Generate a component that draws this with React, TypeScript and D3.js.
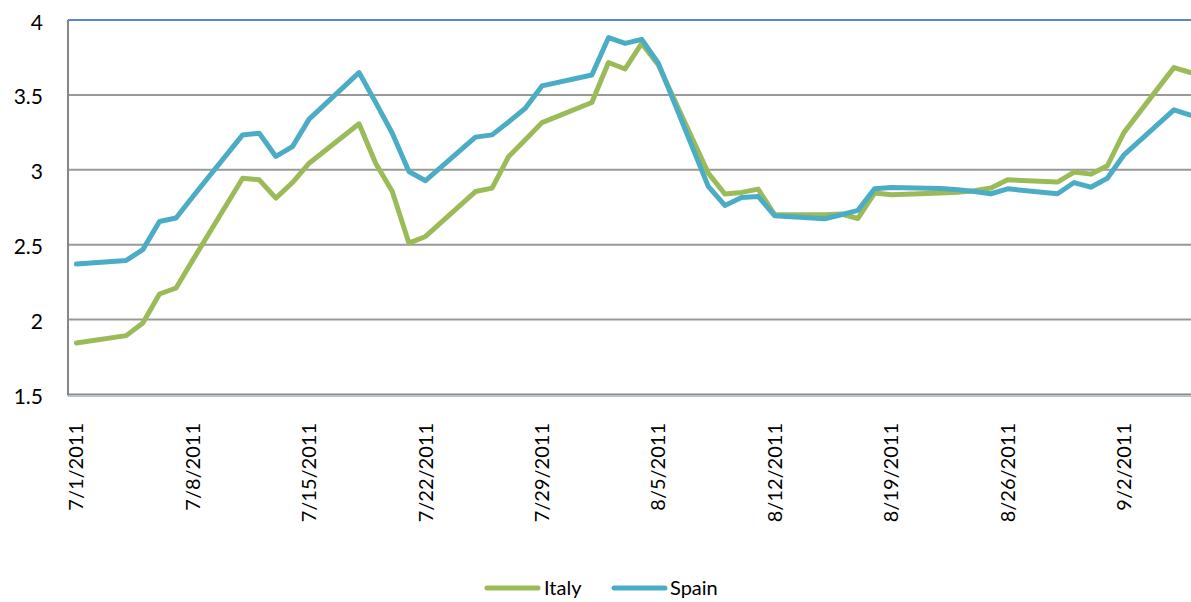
import React from "react";
import * as d3 from "d3";

const dates: string[] = [
  "2011-07-01", "2011-07-04", "2011-07-05", "2011-07-06", "2011-07-07", "2011-07-08",
  "2011-07-11", "2011-07-12", "2011-07-13", "2011-07-14", "2011-07-15",
  "2011-07-18", "2011-07-19", "2011-07-20", "2011-07-21", "2011-07-22",
  "2011-07-25", "2011-07-26", "2011-07-27", "2011-07-28", "2011-07-29",
  "2011-08-01", "2011-08-02", "2011-08-03", "2011-08-04", "2011-08-05",
  "2011-08-08", "2011-08-09", "2011-08-10", "2011-08-11", "2011-08-12",
  "2011-08-15", "2011-08-16", "2011-08-17", "2011-08-18", "2011-08-19",
  "2011-08-22", "2011-08-23", "2011-08-24", "2011-08-25", "2011-08-26",
  "2011-08-29", "2011-08-30", "2011-08-31", "2011-09-01", "2011-09-02",
  "2011-09-05", "2011-09-06",
];

const italy: number[] = [
  1.844, 1.893, 1.978, 2.171, 2.211, 2.397,
  2.944, 2.933, 2.811, 2.915, 3.044,
  3.307, 3.044, 2.855, 2.511, 2.555,
  2.855, 2.878, 3.089, 3.2, 3.315,
  3.449, 3.716, 3.673, 3.844, 3.7,
  2.978, 2.838, 2.849, 2.871, 2.7,
  2.7, 2.705, 2.675, 2.845, 2.833,
  2.845, 2.85, 2.86, 2.878, 2.933,
  2.918, 2.985, 2.971, 3.027, 3.25,
  3.682, 3.649,
];

const spain: number[] = [
  2.371, 2.395, 2.467, 2.655, 2.678, 2.82,
  3.233, 3.244, 3.089, 3.155, 3.338,
  3.649, 3.45, 3.244, 2.989, 2.927,
  3.218, 3.233, 3.32, 3.411, 3.56,
  3.633, 3.882, 3.844, 3.871, 3.711,
  2.889, 2.762, 2.815, 2.822, 2.693,
  2.673, 2.7, 2.729, 2.873, 2.882,
  2.875, 2.867, 2.855, 2.84, 2.873,
  2.84, 2.915, 2.884, 2.944, 3.1,
  3.4, 3.365,
];

const yTicks: number[] = [1.5, 2, 2.5, 3, 3.5, 4];
const xTickDays: number[] = [0, 7, 14, 21, 28, 35, 42, 49, 56, 63];

const seriesNames = ["Italy", "Spain"];
const seriesColors = ["#9BBB59", "#4BACC6"];

const DAY = 86400000;
const start = Date.UTC(2011, 6, 1);
const dayIndex = (s: string) => {
  const [y, m, d] = s.split("-").map(Number);
  return Math.round((Date.UTC(y, m - 1, d) - start) / DAY);
};
const fmtLabel = (day: number) => {
  const dt = new Date(start + day * DAY);
  return `${dt.getUTCMonth() + 1}/${dt.getUTCDate()}/${dt.getUTCFullYear()}`;
};

export default function App() {
  const W = 1191;
  const H = 602;
  const left = 68;
  const dayW = 16.63;
  const x = d3.scaleLinear().domain([-0.5, 67.5]).range([left, left + 68 * dayW]);
  const y = d3.scaleLinear().domain([1.5, 4]).range([394.5, 20]);

  const days = dates.map(dayIndex);
  const line = d3
    .line<number>()
    .x((_, i) => x(days[i]))
    .y((v) => y(v));

  const font = "Lato, 'Open Sans', sans-serif";
  const series = [italy, spain];

  return (
    <svg
      width={W}
      height={H}
      style={{ position: "absolute", left: 0, top: 0, background: "#fff" }}
      fontFamily={font}
    >
      {/* gridlines */}
      {yTicks
        .filter((t) => t > 1.5 && t < 4)
        .map((t) => (
          <line key={t} x1={left} x2={W} y1={y(t)} y2={y(t)} stroke="#999" strokeWidth={2} />
        ))}
      <line x1={left} x2={W} y1={y(4)} y2={y(4)} stroke="#5B87C6" strokeWidth={2} />
      {/* bottom axis */}
      <line x1={left} x2={W} y1={y(1.5) + 2} y2={y(1.5) + 2} stroke="#A9C2E4" strokeWidth={1} />
      <line x1={left} x2={W} y1={y(1.5)} y2={y(1.5)} stroke="#8A8A8A" strokeWidth={2} />
      {/* left axis */}
      <line x1={left} x2={left} y1={y(4)} y2={y(1.5) + 1} stroke="#868686" strokeWidth={2} />

      {/* y labels */}
      {yTicks.map((t) => (
        <text key={t} x={43} y={y(t) + 1} textAnchor="end" dominantBaseline="central" fontSize={21} fill="#000">
          {String(t)}
        </text>
      ))}

      {/* x labels */}
      {xTickDays.map((d) => (
        <text
          key={d}
          transform={`translate(${x(d)},423) rotate(-90)`}
          textAnchor="end"
          dy="0.35em"
          fontSize={20}
          fill="#000"
        >
          {fmtLabel(d)}
        </text>
      ))}

      {/* series lines */}
      {series.map((s, i) => (
        <path
          key={seriesNames[i]}
          d={line(s) || ""}
          fill="none"
          stroke={seriesColors[i]}
          strokeWidth={5}
          strokeLinejoin="round"
          strokeLinecap="round"
        />
      ))}

      {/* legend */}
      {[
        { lx: 485, tx: 544 },
        { lx: 612, tx: 670 },
      ].map((p, i) => (
        <g key={seriesNames[i]}>
          <line x1={p.lx + 2} x2={p.lx + 53} y1={588} y2={588} stroke={seriesColors[i]} strokeWidth={5} strokeLinecap="round" />
          <text x={p.tx} y={595} fontSize={20} fill="#000">
            {seriesNames[i]}
          </text>
        </g>
      ))}
    </svg>
  );
}
